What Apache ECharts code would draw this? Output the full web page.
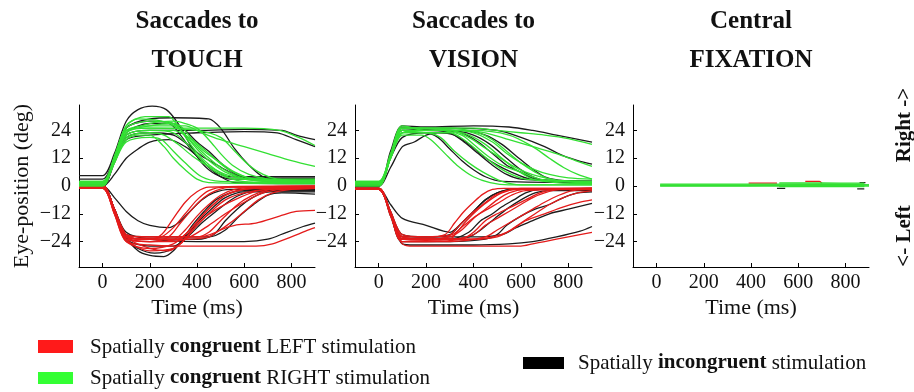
<!DOCTYPE html>
<html>
<head>
<meta charset="utf-8">
<script src="https://cdn.jsdelivr.net/npm/echarts@6/dist/echarts.min.js"></script>
<style>html,body{margin:0;padding:0;background:#fff}#c{width:914px;height:392px}</style>
</head>
<body>
<div id="c"></div>
<script>
// ---- tick labels ----
const timeTicks = [0, 200, 400, 600, 800];
const degTicks = [-24, -12, 0, 12, 24];
const panelTitles = [['Saccades to', 'TOUCH'], ['Saccades to', 'VISION'], ['Central', 'FIXATION']];

// ---- Saccades to TOUCH: traces as [time ms, eye position deg] ----
const touchBlack = [
  [[-100,4.5],[0,4.5],[50,14],[100,28],[150,33],[210,34.5],[270,33],[320,27],[370,18],[420,10],[480,5],[550,3],[900,3]],
  [[-100,3],[0,3],[50,12],[100,25],[200,29],[300,29.5],[450,29],[500,25],[560,16],[620,9],[680,4],[750,3],[900,3]],
  [[-100,0],[0,0],[50,11],[100,22],[200,24],[400,24],[600,24.5],[760,24],[820,22],[900,20]],
  [[-100,0],[0,0],[50,10],[100,20],[200,22],[400,23],[600,23.5],[740,23],[820,20],[900,17]],
  [[-100,0],[0,0],[50,5],[100,12],[150,16],[200,19],[280,20],[350,17],[400,13],[450,8],[500,4],[560,1.5],[900,1]],
  [[-100,0.5],[0,0.5],[50,11],[100,23],[200,27],[280,27],[330,22],[380,15],[430,10],[480,6],[540,4],[900,4]],
  [[-100,1],[0,1],[50,11],[100,21],[200,23],[300,22],[360,18],[420,13],[470,10],[520,7],[580,4],[650,3],[900,3]],
  [[-100,0],[0,0],[50,12],[100,25],[200,28],[300,27],[350,24],[400,19],[450,15],[500,10],[550,6],[600,4],[900,4]],
  [[-100,0],[0,0],[50,-5],[100,-11],[150,-15],[200,-17],[280,-18],[320,-16],[370,-11],[420,-6],[470,-3],[540,-1.5],[900,-1.5]],
  [[-100,0],[0,0],[50,-10],[100,-22],[150,-28],[200,-30],[260,-30.5],[300,-28],[340,-23],[380,-17],[430,-11],[480,-6],[540,-3],[600,-2],[900,-2]],
  [[-100,0],[0,0],[50,-11],[100,-23],[150,-27],[220,-29],[300,-27],[360,-21],[400,-16],[460,-10],[520,-5],[600,-2.5],[900,-2.5]],
  [[-100,0],[0,0],[50,-10],[100,-22],[200,-23],[400,-23],[470,-21],[520,-15],[570,-10],[620,-6],[680,-3],[750,-2],[900,-2]],
  [[-100,0],[0,0],[50,-10],[100,-21],[200,-22],[450,-22],[520,-19],[580,-13],[640,-8],[700,-4],[760,-3],[900,-3.5]],
  [[-100,0],[0,0],[50,-10],[100,-20],[200,-23],[400,-24],[600,-24],[700,-23],[780,-20],[850,-17.5],[900,-16]],
  [[-100,0],[0,0],[50,-11],[100,-23],[200,-26],[300,-26],[360,-22],[420,-16],[480,-11],[530,-7],[580,-4],[650,-2],[900,-2]]
];
const touchRed = [
  [[-100,0],[0,0],[50,-10],[100,-21],[150,-23],[200,-23],[250,-21],[300,-14],[350,-7],[400,-2.5],[450,-0.5],[900,0]],
  [[-100,-0.5],[0,-0.5],[50,-11],[100,-22],[200,-24],[280,-22],[330,-16],[380,-10],[430,-5],[480,-2],[550,-0.5],[900,-0.5]],
  [[-100,0],[0,0],[50,-10],[100,-22],[200,-23],[300,-23],[350,-19],[400,-13],[450,-8],[500,-4],[560,-1.5],[650,-0.5],[900,0]],
  [[-100,-1],[0,-1],[50,-12],[100,-24],[200,-27],[300,-25],[360,-20],[420,-13],[470,-8],[520,-4],[600,-1.5],[700,-1],[900,-1]],
  [[-100,0],[0,0],[50,-11],[100,-22],[200,-23],[350,-23],[450,-22],[500,-19],[560,-17],[650,-16],[750,-13],[820,-11],[900,-10.5]],
  [[-100,-0.5],[0,-0.5],[50,-12],[100,-24],[200,-25.5],[300,-26],[500,-26],[650,-26],[720,-25],[800,-22],[860,-19.5],[900,-18]],
  [[-100,0],[0,0],[50,-11],[100,-23],[200,-24],[320,-23],[380,-18],[430,-12],[480,-7],[540,-3],[620,-1],[900,-0.5]],
  [[-100,-1],[0,-1],[50,-11],[100,-21],[200,-22],[400,-22],[450,-20],[500,-15],[550,-10],[600,-6],[660,-3],[740,-1],[900,-1]],
  [[-100,0],[0,0],[50,-11],[100,-22],[200,-27],[280,-28],[330,-25],[380,-19],[440,-13],[500,-9],[580,-5],[660,-2],[760,-1],[900,-1]],
  [[-100,-0.5],[0,-0.5],[50,-11],[100,-23],[200,-24],[300,-24],[370,-22],[450,-17],[520,-12],[600,-7],[680,-3],[760,-1.5],[900,-1]],
  [[-100,0],[0,0],[50,-11],[100,-22],[200,-23],[250,-22],[300,-18],[350,-12],[400,-6],[450,-2],[520,-0.5],[900,-0.5]],
  [[-100,-1],[0,-1],[50,-12],[100,-23],[200,-28],[300,-27],[350,-23],[400,-17],[460,-11],[520,-6],[600,-3],[700,-1.5],[900,-1]],
  [[-100,0],[0,0],[50,-10],[100,-22],[200,-22],[300,-22],[400,-22],[480,-20],[540,-16],[600,-11],[660,-6],[720,-3],[800,-1.5],[900,-1]]
];
const touchGreen = [
  [[-100,1],[0,1],[50,12],[100,26],[180,30],[280,30],[330,24],[380,17],[420,12],[480,7],[550,3],[650,1.5],[900,1]],
  [[-100,0.5],[0,0.5],[50,11],[100,20],[150,22],[200,22],[260,17],[300,12],[350,7],[400,3],[450,1.5],[900,1]],
  [[-100,1.5],[0,1.5],[50,10],[100,19],[200,21],[250,20],[300,15],[350,10],[420,4],[500,2],[900,1.5]],
  [[-100,1],[0,1],[50,12],[100,25],[200,28],[300,27],[350,22],[400,16],[450,11],[520,6],[600,3],[700,2],[900,1.5]],
  [[-100,2],[0,2],[50,12],[100,23],[200,27],[300,28],[350,27],[400,25],[450,20],[500,14],[550,9],[620,5],[700,3],[800,2.5],[900,2]],
  [[-100,0.5],[0,0.5],[50,12],[100,24],[200,26],[350,26],[420,23],[500,20],[600,17],[700,14],[800,11],[900,8.5]],
  [[-100,1],[0,1],[50,12],[100,24],[200,25],[400,25],[600,25],[750,24],[830,21],[900,17.5]],
  [[-100,1.5],[0,1.5],[50,11],[100,22],[200,24],[300,24],[380,20],[450,14],[520,8],[600,4],[700,2.5],[900,2]],
  [[-100,0.5],[0,0.5],[50,13],[100,26],[150,29],[250,28],[320,25],[380,19],[440,13],[500,8],[580,4],[680,2],[900,2]],
  [[-100,1],[0,1],[50,10],[100,21],[200,23],[260,22],[320,18],[380,13],[440,9],[520,5],[600,3],[800,2],[900,2.5]],
  [[-100,2],[0,2],[50,12],[100,24],[200,25],[400,24],[500,21],[560,15],[620,9],[680,5],[740,3],[900,2]],
  [[-100,0],[0,0],[50,11],[100,22],[200,24],[300,23],[360,18],[420,11],[480,6],[560,3],[900,3]],
  [[-100,1],[0,1],[50,12],[100,23],[200,26],[300,27],[340,25],[380,20],[430,15],[500,10],[560,6],[640,3],[900,2.5]]
];

// ---- Saccades to VISION ----
const visionBlack = [
  [[-100,0.5],[0,0.5],[50,15],[100,26],[200,25.5],[400,26],[550,25.5],[650,24],[750,22],[900,19]],
  [[-100,1],[0,1],[50,12],[100,21],[200,23],[250,21],[300,16],[350,11],[400,7],[450,4],[520,2],[900,1.5]],
  [[-100,0.5],[0,0.5],[50,13],[100,24],[200,24],[300,23],[360,19],[420,14],[480,9],[540,5],[600,3],[900,2]],
  [[-100,1],[0,1],[50,13],[100,25],[250,24],[350,23],[420,19],[480,14],[540,9],[600,6],[660,3],[900,2]],
  [[-100,0],[0,0],[50,13],[100,24],[300,24],[400,22],[470,18],[540,12],[600,7],[660,3.5],[720,2],[900,1.5]],
  [[-100,1],[0,1],[50,13],[100,25],[300,25],[500,24],[600,21],[700,17],[780,13],[840,11],[900,9.5]],
  [[-100,0],[0,0],[50,8],[100,17],[150,19],[200,22],[250,23],[320,22],[380,18],[440,13],[500,9],[560,6],[640,3],[900,2]],
  [[-100,0.5],[0,0.5],[50,13],[100,25],[200,24],[350,24],[450,22],[520,18],[580,13],[640,8],[700,4],[760,2.5],[900,2]],
  [[-100,-1],[0,-1],[50,-8],[100,-14],[200,-17],[300,-20],[350,-16],[400,-11],[450,-6],[500,-3],[560,-1.5],[900,-1.5]],
  [[-100,-1.5],[0,-1.5],[50,-12],[100,-23],[300,-23],[380,-20],[430,-15],[480,-12],[520,-9],[570,-6],[620,-3],[680,-1.5],[900,-1]],
  [[-100,-1],[0,-1],[50,-12],[100,-24],[300,-24],[450,-23],[500,-21],[540,-17],[600,-13],[660,-10],[720,-8],[780,-5],[840,-3],[900,-2.5]],
  [[-100,-1.5],[0,-1.5],[50,-11],[100,-22],[400,-22],[520,-21],[580,-18],[650,-15],[720,-12],[800,-10],[900,-7.5]],
  [[-100,-1],[0,-1],[50,-13],[100,-25],[150,-25.5],[400,-25.5],[550,-25],[650,-24],[750,-22],[850,-19.5],[900,-17.5]],
  [[-100,-1.5],[0,-1.5],[50,-11],[100,-21],[200,-22],[300,-21],[350,-16],[400,-11],[450,-6],[500,-3],[560,-1.5],[900,-1.5]],
  [[-100,-1],[0,-1],[50,-12],[100,-23],[300,-23],[380,-22],[430,-19],[490,-14],[540,-10],[600,-6],[660,-3],[720,-2],[900,-2]]
];
const visionRed = [
  [[-100,-1.5],[0,-1.5],[50,-11],[100,-21],[200,-22],[280,-21],[320,-16],[360,-11],[400,-7],[440,-3.5],[480,-1.5],[530,-1],[900,-1]],
  [[-100,-1],[0,-1],[50,-12],[100,-22],[200,-23],[290,-22],[340,-17],[390,-12],[440,-8],[490,-4],[540,-2],[600,-1],[900,-1]],
  [[-100,-1.5],[0,-1.5],[50,-12],[100,-22],[200,-23],[300,-22],[350,-19],[400,-14],[450,-10],[500,-6],[550,-3],[620,-1.5],[900,-1]],
  [[-100,-1],[0,-1],[50,-12],[100,-23],[300,-23],[400,-21],[450,-17],[500,-14],[550,-11],[600,-8],[650,-5],[700,-3],[760,-1.5],[900,-1]],
  [[-100,-1.5],[0,-1.5],[50,-12],[100,-24],[300,-24],[450,-22],[500,-19],[550,-16],[600,-13],[650,-10],[700,-7],[760,-4],[820,-2],[900,-1.5]],
  [[-100,-1],[0,-1],[50,-12],[100,-23],[400,-23],[500,-22],[560,-19],[620,-15],[700,-12],[780,-9],[850,-7],[900,-6]],
  [[-100,-1.5],[0,-1.5],[50,-13],[100,-25],[150,-26],[400,-26],[600,-26],[650,-25],[700,-24],[800,-22],[900,-20]],
  [[-100,-1],[0,-1],[50,-12],[100,-23],[200,-23.5],[300,-23],[330,-20],[370,-15],[420,-10],[470,-6],[520,-3],[580,-1.5],[900,-1]],
  [[-100,-1.5],[0,-1.5],[50,-12],[100,-24],[200,-24],[350,-23],[400,-20],[450,-15],[500,-12],[560,-9],[620,-6],[680,-3],[740,-1.5],[900,-1]],
  [[-100,-1],[0,-1],[50,-11],[100,-22],[200,-22],[310,-21],[360,-17],[410,-13],[460,-10],[510,-7],[560,-4],[620,-2],[900,-1.5]],
  [[-100,-1.5],[0,-1.5],[50,-12],[100,-23],[250,-23],[400,-23],[480,-22],[540,-20],[600,-16],[660,-12],[720,-8],[780,-5],[840,-3],[900,-2]]
];
const visionGreen = [
  [[-100,1],[0,1],[50,12],[100,22],[180,22],[220,20],[280,14],[330,9],[400,4],[470,1.5],[550,0.5],[900,0.5]],
  [[-100,0.5],[0,0.5],[50,12],[100,23],[200,23],[260,21],[320,15],[380,10],[440,6],[520,2],[600,0.5],[900,0.5]],
  [[-100,1.5],[0,1.5],[50,13],[100,24],[300,24],[380,21],[440,17],[500,13],[560,9],[620,6],[680,4],[750,2.5],[900,2]],
  [[-100,2],[0,2],[50,13],[100,25],[300,25],[420,23],[480,20],[540,15],[600,10],[660,6],[720,3],[800,2],[900,2]],
  [[-100,1],[0,1],[50,12],[100,23],[250,24],[350,22],[400,18],[460,13],[520,9],[600,6],[680,3],[780,2],[900,1]],
  [[-100,0.5],[0,0.5],[50,13],[100,24],[200,24],[350,24],[450,23],[550,20],[650,17],[750,14],[830,11],[900,8.5]],
  [[-100,1],[0,1],[50,13],[100,25],[200,25],[400,25],[500,24],[600,23],[700,22],[800,20.5],[900,18]],
  [[-100,2],[0,2],[50,14],[100,26],[200,24],[400,24],[550,22],[650,17],[720,12],[780,8],[840,5],[900,3]],
  [[-100,1],[0,1],[50,13],[100,24],[200,23],[300,23],[360,20],[420,15],[480,10],[540,6],[620,3],[900,1.5]],
  [[-100,0],[0,0],[50,12],[100,23],[200,24],[300,24],[400,23],[480,19],[540,14],[600,10],[660,7],[720,5],[800,3.5],[900,3]],
  [[-100,1.5],[0,1.5],[50,13],[100,25],[200,25],[300,24],[380,22],[450,18],[520,12],[580,7],[650,3],[750,1.5],[900,1]]
];

// ---- Central FIXATION ----
const fixationBlack = [
  [[510,-1],[545,-1]],
  [[850,-1.2],[880,-1.2]],
  [[860,1.5],[885,1.5]]
];
const fixationRed = [
  [[390,1.2],[510,1.2]],
  [[630,2],[690,2],[700,1.2]]
];
const fixationGreen = [
  [[15,0.5],[900,0.5]],
  [[15,0.2],[400,0.2],[520,0.3],[700,0.7],[900,0.5]],
  [[15,0.8],[500,0.8],[880,0.8]],
  [[15,0],[520,0],[900,0]],
  [[520,-0.3],[880,-0.3]],
  [[520,1.3],[700,1.3],[880,1.2]],
  [[520,0.1],[880,0.1]]
];

const panels = [
  {black: touchBlack, red: touchRed, green: touchGreen},
  {black: visionBlack, red: visionRed, green: visionGreen},
  {black: fixationBlack, red: fixationRed, green: fixationGreen}
];

const FONT = 'Liberation Serif';
const COLORS = {black: '#1c1c1c', red: '#e41b1b', green: '#33e033'};
const grids = [
  {left: 79, top: 105, width: 236, height: 162},
  {left: 355, top: 105, width: 237, height: 162},
  {left: 633, top: 105, width: 236, height: 162}
];
const fmtDeg = v => (v < 0 ? '\u2212' + Math.abs(v) : String(v));

const xAxes = grids.map((g, i) => ({
  gridIndex: i, type: 'value', min: -100, max: 900,
  axisLine: {show: true, onZero: false, lineStyle: {color: '#000', width: 1}},
  axisTick: {show: true, inside: true, length: 4, customValues: timeTicks, lineStyle: {color: '#000'}},
  axisLabel: {customValues: timeTicks, fontFamily: FONT, fontSize: 20, color: '#111', margin: 6},
  splitLine: {show: false},
  name: 'Time (ms)', nameLocation: 'middle', nameGap: 30,
  nameTextStyle: {fontFamily: FONT, fontSize: 22, color: '#111'}
}));
const yAxes = grids.map((g, i) => ({
  gridIndex: i, type: 'value', min: -35, max: 35,
  axisLine: {show: true, onZero: false, lineStyle: {color: '#000', width: 1}},
  axisTick: {show: true, inside: true, length: 4, customValues: degTicks, lineStyle: {color: '#000'}},
  axisLabel: {customValues: degTicks, formatter: fmtDeg, fontFamily: FONT, fontSize: 20, color: '#111', margin: 8},
  splitLine: {show: false},
  name: i === 0 ? 'Eye-position (deg)' : '', nameLocation: 'middle', nameGap: 46, nameRotate: 90,
  nameTextStyle: {fontFamily: FONT, fontSize: 22, color: '#111'}
}));

const series = [];
panels.forEach((p, i) => {
  ['black', 'red', 'green'].forEach(k => {
    p[k].forEach(trace => {
      series.push({
        type: 'line', xAxisIndex: i, yAxisIndex: i, data: trace,
        showSymbol: false, symbol: 'none', smooth: 0.3, silent: true,
        lineStyle: {color: COLORS[k], width: 1.3}
      });
    });
  });
});

const graphic = [];
panelTitles.forEach((t, i) => {
  const cx = grids[i].left + grids[i].width / 2;
  graphic.push({type: 'text', x: cx, y: 22, style: {text: t[0], fill: '#111', font: 'bold 25px "' + FONT + '"', align: 'center', verticalAlign: 'middle'}});
  graphic.push({type: 'text', x: cx, y: 61, style: {text: t[1], fill: '#111', font: 'bold 25px "' + FONT + '"', align: 'center', verticalAlign: 'middle'}});
});
graphic.push({type: 'text', x: 905, y: 125, rotation: Math.PI / 2, style: {text: 'Right ->', fill: '#111', font: 'bold 21px "' + FONT + '"', align: 'center', verticalAlign: 'middle'}});
graphic.push({type: 'text', x: 905, y: 236, rotation: Math.PI / 2, style: {text: '<- Left', fill: '#111', font: 'bold 21px "' + FONT + '"', align: 'center', verticalAlign: 'middle'}});

const richStyle = {
  n: {fontFamily: FONT, fontSize: 21, fill: '#111'},
  b: {fontFamily: FONT, fontSize: 21, fontWeight: 'bold', fill: '#111'}
};
const legendItems = [
  {color: '#ff1a1a', rx: 38, ry: 340, rw: 35, rh: 13, tx: 90, ty: 347, text: '{n|Spatially }{b|congruent}{n| LEFT stimulation}'},
  {color: '#33ff33', rx: 38, ry: 372, rw: 35, rh: 12, tx: 90, ty: 378, text: '{n|Spatially }{b|congruent}{n| RIGHT stimulation}'},
  {color: '#000000', rx: 523, ry: 357, rw: 41, rh: 12, tx: 578, ty: 363, text: '{n|Spatially }{b|incongruent}{n| stimulation}'}
];
legendItems.forEach(l => {
  graphic.push({type: 'rect', shape: {x: l.rx, y: l.ry, width: l.rw, height: l.rh}, style: {fill: l.color}});
  graphic.push({type: 'text', x: l.tx, y: l.ty, style: {text: l.text, rich: richStyle, align: 'left', verticalAlign: 'middle'}});
});

const chart = echarts.init(document.getElementById('c'), null, {renderer: 'canvas'});
chart.setOption({
  animation: false,
  backgroundColor: '#fff',
  grid: grids,
  xAxis: xAxes,
  yAxis: yAxes,
  series: series,
  graphic: graphic
});
</script>
</body>
</html>
